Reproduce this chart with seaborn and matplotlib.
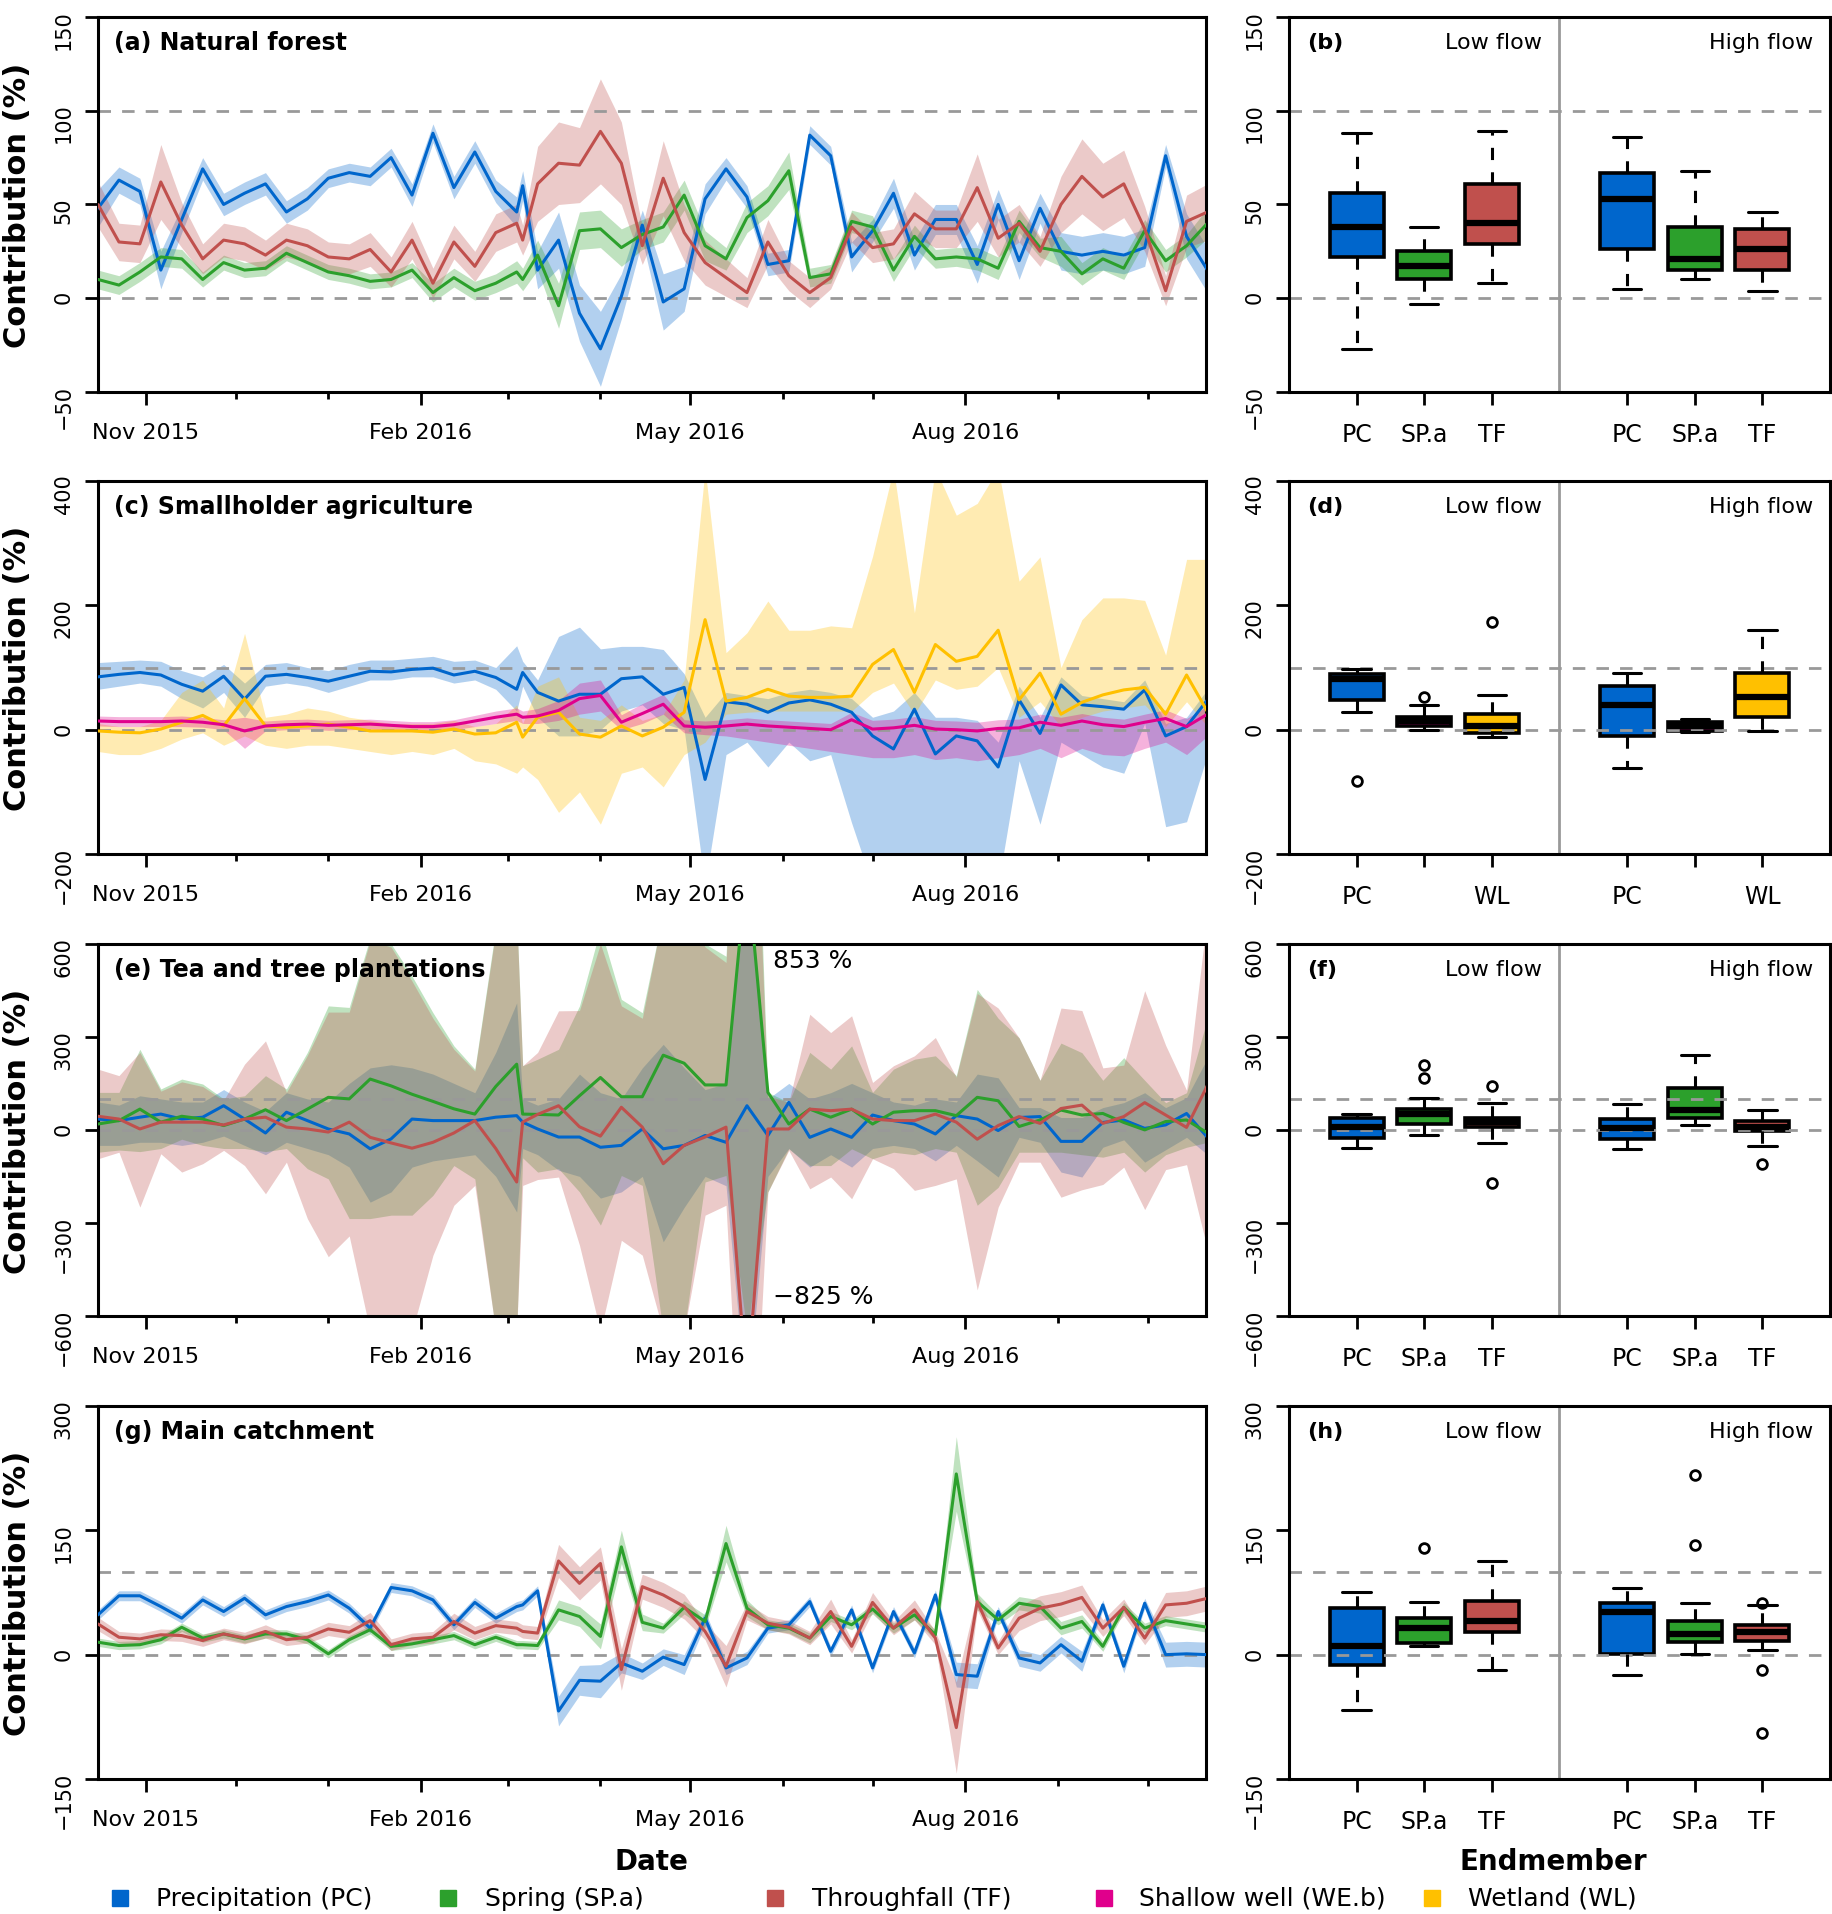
import numpy as np
import pandas as pd
import matplotlib
matplotlib.use("Agg")
import matplotlib.pyplot as plt
import matplotlib.dates as mdates
from matplotlib.lines import Line2D
import seaborn as sns

sns.set_theme(style="ticks")
plt.rcParams["font.family"] = ["DejaVu Sans"]
plt.rcParams["text.color"] = "black"
plt.rcParams["axes.labelcolor"] = "black"
plt.rcParams["xtick.color"] = "black"
plt.rcParams["ytick.color"] = "black"

# sampling dates (weekly, one extra sample early March)
dates = pd.to_datetime([
    "2015-10-16", "2015-10-23", "2015-10-30", "2015-11-06", "2015-11-13", "2015-11-20", "2015-11-27",
    "2015-12-04", "2015-12-11", "2015-12-18", "2015-12-25", "2016-01-01", "2016-01-08", "2016-01-15",
    "2016-01-22", "2016-01-29", "2016-02-05", "2016-02-12", "2016-02-19", "2016-02-26", "2016-03-04",
    "2016-03-06", "2016-03-11", "2016-03-18", "2016-03-25", "2016-04-01", "2016-04-08", "2016-04-15",
    "2016-04-22", "2016-04-29", "2016-05-06", "2016-05-13", "2016-05-20", "2016-05-27", "2016-06-03",
    "2016-06-10", "2016-06-17", "2016-06-24", "2016-07-01", "2016-07-08", "2016-07-15", "2016-07-22",
    "2016-07-29", "2016-08-05", "2016-08-12", "2016-08-19", "2016-08-26", "2016-09-02", "2016-09-09",
    "2016-09-16", "2016-09-23", "2016-09-30", "2016-10-07", "2016-10-14", "2016-10-21"])

# (a) natural forest: mean and half width of band
forest_pc = [48, 63, 57, 15, 42, 69, 50, 56, 61, 46,
             53, 64, 67, 65, 75, 55, 88, 59, 78, 57,
             46, 60, 15, 31, -8, -27, 1, 39, -2, 5,
             53, 69, 54, 18, 20, 87, 76, 22, 36, 56,
             23, 42, 42, 18, 50, 20, 48, 25, 23, 25,
             23, 27, 76, 33, 15]
forest_pc_err = [10, 7, 7, 10, 7, 6, 6, 6, 6, 6,
                 6, 5, 5, 5, 5, 6, 5, 6, 6, 6,
                 8, 8, 10, 15, 15, 20, 12, 8, 15, 12,
                 8, 6, 6, 6, 6, 5, 5, 8, 6, 8,
                 8, 8, 8, 10, 8, 10, 8, 10, 10, 10,
                 10, 10, 6, 12, 12]
forest_sp = [10, 7, 14, 22, 21, 10, 19, 15, 16, 24,
             19, 14, 12, 9, 10, 15, 3, 11, 4, 8,
             14, 10, 23, -4, 36, 37, 27, 34, 38, 55,
             28, 21, 43, 52, 68, 11, 13, 41, 38, 15,
             33, 21, 22, 21, 16, 41, 27, 25, 13, 21,
             16, 36, 20, 28, 40]
forest_sp_err = [5, 5, 5, 5, 5, 4, 4, 4, 4, 4,
                 4, 4, 4, 4, 4, 4, 5, 5, 5, 5,
                 6, 6, 8, 12, 10, 10, 10, 8, 8, 8,
                 8, 6, 8, 8, 10, 5, 5, 6, 6, 6,
                 6, 5, 5, 6, 6, 6, 5, 8, 6, 6,
                 6, 6, 6, 6, 8]
forest_tf = [50, 30, 29, 62, 39, 21, 31, 29, 23, 31,
             28, 22, 21, 26, 14, 31, 8, 30, 17, 35,
             40, 31, 61, 72, 71, 89, 72, 28, 64, 35,
             19, 11, 3, 30, 12, 3, 11, 38, 27, 29,
             45, 37, 37, 59, 32, 40, 25, 50, 65, 54,
             61, 37, 4, 41, 46]
forest_tf_err = [12, 10, 10, 20, 12, 8, 9, 9, 8, 9,
                 9, 8, 8, 9, 8, 10, 8, 9, 8, 10,
                 10, 8, 20, 22, 20, 28, 22, 10, 20, 15,
                 12, 10, 8, 12, 8, 8, 6, 8, 8, 8,
                 12, 10, 10, 18, 10, 10, 8, 15, 20, 18,
                 18, 12, 8, 14, 15]

# (c) smallholder agriculture: mean, lower and upper band
agri_pc = [85, 89, 92, 88, 73, 62, 86, 49, 86, 89,
           84, 78, 86, 94, 93, 97, 99, 88, 94, 84,
           65, 92, 60, 46, 57, 57, 82, 85, 57, 68,
           -80, 45, 41, 28, 43, 48, 41, 28, -10, -31,
           33, -39, -10, -18, -60, 48, -6, 72, 40, 37,
           33, 64, -10, 5, 48]
agri_pc_lo = [65, 70, 75, 70, 50, 35, 60, 20, 70, 75,
              70, 60, 70, 80, 80, 85, 85, 75, 80, 65,
              30, 70, 20, -10, -10, 0, 30, 40, 10, 0,
              -250, -40, -20, -60, -20, -50, -40, -150, -250, -250,
              -250, -250, -250, -250, -250, -50, -152, -20, -40, -60,
              -70, 10, -156, -148, -40]
agri_pc_hi = [108, 110, 112, 110, 95, 85, 105, 75, 105, 108,
              100, 95, 105, 112, 112, 115, 118, 110, 112, 100,
              135, 110, 80, 150, 165, 130, 134, 134, 129, 90,
              20, 60, 55, 50, 60, 65, 60, 50, 20, 30,
              60, 20, 20, 15, -20, 70, 20, 85, 55, 50,
              45, 80, 10, 20, 65]
agri_we = [14, 13, 13, 13, 14, 12, 8, -2, 6, 8,
           9, 7, 8, 9, 7, 5, 5, 8, 14, 20,
           25, 20, 22, 31, 50, 55, 12, 26, 41, 6,
           4, 6, 9, 6, 4, 2, 0, 16, 1, 3,
           7, 1, 0, -2, 2, 3, 12, 7, 14, 8,
           5, 12, 18, 5, 25]
agri_we_lo = [6, 5, 5, 5, 5, 4, 0, -30, -2, 0,
              1, -1, 0, 1, -1, -3, -3, 0, 5, 10,
              15, 10, 10, 15, 25, 30, 0, 10, 25, -5,
              -8, -10, -15, -20, -25, -30, -35, -40, -45, -45,
              -40, -48, -45, -50, -45, -40, -30, -45, -30, -40,
              -42, -30, -20, -40, -10]
agri_we_hi = [22, 21, 21, 21, 22, 20, 16, 20, 14, 16,
              17, 15, 16, 17, 15, 13, 13, 16, 23, 30,
              35, 30, 34, 47, 75, 80, 24, 42, 57, 16,
              14, 16, 19, 16, 14, 12, 10, 28, 15, 17,
              21, 15, 14, 12, 16, 17, 25, 20, 26, 20,
              17, 25, 32, 18, 38]
agri_wl = [-2, -4, -5, 1, 12, 23, 6, 50, 6, 4,
           6, 9, 4, -2, -2, -2, -4, 1, -7, -5,
           12, -12, 20, 28, -7, -12, 6, -10, 4, 28,
           177, 46, 52, 65, 54, 52, 52, 54, 105, 129,
           60, 137, 110, 118, 160, 48, 91, 25, 44, 56,
           64, 68, 25, 88, 29]
agri_wl_lo = [-35, -40, -40, -30, -15, -5, -25, -10, -25, -30,
              -25, -25, -30, -35, -40, -35, -40, -30, -50, -55,
              -70, -60, -80, -133, -100, -152, -70, -60, -92, -40,
              -20, 25, 28, 30, 30, 30, 30, 30, 60, 75,
              25, 80, 65, 70, 100, 20, 45, 5, 20, 30,
              35, 40, 5, 45, 5]
agri_wl_hi = [10, 5, 5, 15, 60, 80, 35, 155, 20, 25,
              35, 30, 20, 15, 10, 10, 10, 15, 5, 10,
              40, 10, 70, 85, 20, 15, 40, 15, 25, 80,
              420, 124, 156, 207, 160, 160, 167, 164, 279, 420,
              188, 420, 345, 364, 420, 239, 278, 100, 177, 212,
              212, 208, 120, 274, 274]

# (e) tea and tree plantations
tea_pc = [35, 30, 41, 51, 35, 41, 78, 35, -10, 57,
          30, 3, -13, -61, -29, 35, 30, 30, 30, 41,
          46, 25, 3, -23, -23, -56, -50, 3, -61, -50,
          -18, -40, 78, -18, 89, -24, 3, -24, 48, 30,
          19, -13, 46, 35, -2, 40, 43, -37, -37, 24,
          32, 5, 16, 53, -24]
tea_pc_lo = [-50, -50, -40, -40, -50, -40, -20, -50, -80, -40,
             -60, -80, -120, -233, -200, -120, -100, -90, -80, -150,
             -265, -60, -80, -130, -150, -220, -200, -150, -361, -250,
             -150, -180, -900, -150, -60, -120, -80, -120, -60, -50,
             -60, -100, -50, -100, -152, -24, -40, -136, -152, -56,
             -32, -104, -64, -24, -80]
tea_pc_hi = [90, 80, 110, 100, 90, 90, 130, 90, 60, 120,
             100, 90, 150, 200, 210, 200, 180, 150, 120, 250,
             410, 100, 80, 100, 180, 120, 100, 200, 276, 200,
             130, 150, 900, 100, 150, 100, 120, 150, 120, 90,
             80, 100, 90, 180, 168, 72, 72, 40, 40, 72,
             88, 120, 72, 104, 232]
tea_sp = [19, 30, 67, 25, 44, 35, 14, 35, 65, 30,
          67, 105, 100, 164, 142, 115, 92, 68, 51, 140,
          212, 51, 50, 48, 110, 169, 107, 107, 241, 215,
          145, 145, 853, 121, 19, 67, 41, 67, 19, 57,
          62, 62, 46, 105, 94, 11, 32, 64, 48, 53,
          24, 0, 27, 32, -10]
tea_sp_lo = [-72, -65, -70, -60, -30, -50, -60, -60, -70, -60,
             -125, -158, -286, -286, -275, -275, -211, -115, -158, -650,
             -650, -90, -136, -125, -200, -307, -147, -179, -650, -650,
             -168, -147, -650, -200, -61, -115, -115, -61, -93, -72,
             -80, -60, -72, -243, -185, -72, -72, -72, -80, -88,
             -72, -136, -80, -56, -40]
tea_sp_hi = [121, 121, 260, 132, 164, 148, 100, 110, 175, 132,
             250, 400, 395, 620, 600, 496, 378, 271, 196, 650,
             700, 207, 228, 260, 400, 650, 421, 378, 700, 700,
             600, 560, 2000, 121, 89, 250, 196, 271, 121, 196,
             228, 239, 175, 453, 360, 297, 160, 280, 249, 160,
             233, 160, 88, 120, 360]
tea_tf = [44, 35, 3, 25, 25, 25, 16, 35, 41, 9,
          3, -7, 25, -24, -42, -59, -40, -10, 30, -60,
          -168, 25, 50, 78, 10, -20, 73, 9, -109, -50,
          -23, 9, -825, 3, 3, 67, 62, 67, 35, 30,
          30, 51, 25, -30, 14, 43, 21, 69, 80, 21,
          43, 88, 48, 8, 144]
tea_tf_lo = [-93, -72, -249, -77, -136, -109, -66, -115, -206, -104,
             -286, -409, -342, -650, -650, -650, -404, -243, -179, -650,
             -650, -179, -160, -152, -372, -650, -356, -404, -650, -650,
             -275, -243, -1500, -200, -66, -190, -152, -222, -93, -125,
             -195, -179, -158, -516, -249, -104, -104, -217, -193, -176,
             -120, -257, -128, -112, -385]
tea_tf_hi = [196, 175, 250, 125, 155, 140, 95, 212, 287, 121,
             240, 380, 380, 610, 590, 480, 360, 260, 190, 640,
             690, 207, 250, 384, 385, 600, 400, 360, 700, 700,
             590, 540, 1800, 110, 89, 373, 314, 368, 153, 207,
             239, 298, 170, 440, 393, 297, 160, 393, 385, 200,
             209, 449, 273, 128, 700]

# (g) main catchment: mean and half width of band
main_pc = [48, 71, 71, 58, 44, 66, 52, 68, 48, 58,
           64, 72, 56, 32, 81, 77, 66, 36, 63, 44,
           58, 60, 77, -68, -31, -32, -10, -20, -3, -12,
           44, -16, -4, 32, 36, 64, 4, 54, -16, 52,
           2, 72, -24, -26, 52, -4, -10, 12, -8, 60,
           -14, 62, 0, 1, 0]
main_pc_err = [6, 6, 6, 6, 6, 6, 6, 6, 6, 6,
               6, 6, 6, 6, 6, 6, 6, 6, 6, 6,
               6, 6, 6, 18, 18, 20, 12, 10, 10, 12,
               8, 8, 8, 6, 6, 6, 6, 6, 6, 6,
               6, 6, 15, 15, 6, 10, 10, 10, 12, 6,
               8, 6, 15, 15, 15]
main_sp = [15, 11, 12, 18, 33, 20, 25, 19, 25, 25,
           18, 1, 18, 30, 10, 13, 18, 23, 12, 21,
           12, 12, 11, 54, 46, 22, 130, 39, 32, 57,
           40, 134, 56, 36, 32, 20, 46, 36, 55, 32,
           48, 24, 218, 64, 42, 62, 58, 32, 40, 10,
           57, 32, 41, 37, 33]
main_sp_err = [5, 5, 5, 5, 5, 5, 5, 5, 5, 5,
               5, 5, 5, 5, 5, 5, 5, 5, 5, 5,
               5, 5, 5, 12, 12, 15, 20, 10, 6, 8,
               8, 22, 10, 6, 6, 6, 6, 6, 6, 6,
               6, 6, 45, 10, 6, 8, 8, 8, 8, 6,
               6, 6, 6, 6, 6]
main_tf = [37, 21, 19, 24, 23, 17, 25, 20, 28, 18,
           21, 31, 27, 41, 12, 19, 21, 40, 26, 35,
           32, 28, 26, 113, 86, 110, -18, 82, 72, 58,
           28, -14, 52, 38, 33, 20, 52, 10, 63, 32,
           54, 20, -88, 64, 8, 44, 56, 61, 69, 32,
           57, 20, 60, 62, 68]
main_tf_err = [8, 7, 7, 7, 7, 7, 7, 7, 8, 7,
               7, 8, 8, 10, 7, 7, 7, 10, 8, 8,
               8, 8, 8, 20, 20, 20, 25, 15, 15, 15,
               10, 25, 10, 8, 8, 8, 15, 8, 12, 8,
               12, 8, 55, 10, 8, 15, 15, 15, 15, 10,
               10, 8, 15, 15, 15]

# boxplot summaries: [whisker low, q1, median, q3, whisker high]
b_low = [[-27, 22, 38, 56, 88], [-3, 10, 17, 25, 38], [8, 29, 40, 61, 89]]
b_low_out = [[], [], []]
b_high = [[5, 26, 53, 67, 86], [10, 15, 21, 38, 68], [4, 15, 26, 37, 46]]
b_high_out = [[], [], []]
d_low = [[29, 47, 81, 89, 98], [0, 6, 14, 21, 40], [-12, -5, 6, 25, 56]]
d_low_out = [[-83], [52], [174]]
d_high = [[-61, -10, 40, 71, 92], [-3, -2, 6, 12, 18], [-2, 21, 52, 92, 160]]
d_high_out = [[], [], []]
f_low = [[-59, -27, 8, 37, 51], [-16, 18, 52, 68, 104], [-43, 8, 25, 40, 88]]
f_low_out = [[], [168, 208], [140, -170]]
f_high = [[-60, -28, 5, 35, 82], [15, 40, 65, 135, 240], [-52, -5, 10, 28, 65]]
f_high_out = [[], [], [-110]]
h_low = [[-67, -12, 10, 56, 76], [10, 14, 32, 44, 63], [-19, 27, 40, 65, 113]]
h_low_out = [[], [129], []]
h_high = [[-24, 1, 52, 62, 80], [1, 15, 25, 40, 62], [6, 17, 27, 36, 60]]
h_high_out = [[], [217, 132], [62, -19, -95]]

colors = {"PC": "#0066CC", "SP.a": "#2CA02C", "TF": "#C0504D",
          "WE.b": "#E0008C", "WL": "#FFC000"}
legend_labels = ["Precipitation (PC)", "Spring (SP.a)", "Throughfall (TF)",
                 "Shallow well (WE.b)", "Wetland (WL)"]
GREY = "#999999"


def pm(vals, err):
    v = np.array(vals, dtype=float)
    e = np.array(err, dtype=float)
    return vals, v - e, v + e


def draw_series(ax, series):
    frames = []
    for name, vals, lo, hi in series:
        ax.fill_between(dates, np.array(lo, float), np.array(hi, float),
                        color=colors[name], alpha=0.3, linewidth=0, zorder=1)
        frames.append(pd.DataFrame({"date": dates, "value": vals, "source": name}))
    df = pd.concat(frames, ignore_index=True)
    sns.lineplot(data=df, x="date", y="value", hue="source", palette=colors,
                 estimator=None, sort=False, legend=False, linewidth=2.2,
                 ax=ax, zorder=3)


def style_common(ax, ylim, yticks):
    ax.set_ylim(*ylim)
    ax.set_yticks(yticks)
    for s in ax.spines.values():
        s.set_visible(True)
        s.set_linewidth(2.2)
        s.set_color("black")
    ax.tick_params(axis="y", length=9.5, width=2, pad=8, labelsize=15,
                   labelrotation=90, color="black", labelcolor="black")
    for y in (0, 100):
        ax.axhline(y, color=GREY, linewidth=2, linestyle=(0, (4.5, 4)), zorder=2.5)
    ax.set_facecolor("white")


def draw_boxes(ax, low, low_out, high, high_out, names, ticklabels):
    stats = []
    for vals, out in zip(low + high, low_out + high_out):
        stats.append(dict(whislo=vals[0], q1=vals[1], med=vals[2], q3=vals[3],
                          whishi=vals[4], fliers=out))
    bp = ax.bxp(stats, positions=[1, 2, 3, 5, 6, 7], widths=0.8, capwidths=0.42,
                patch_artist=True, manage_ticks=False,
                boxprops=dict(linewidth=2.6, edgecolor="black", zorder=2),
                whiskerprops=dict(linewidth=2.2, linestyle=(0, (4, 4)), color="black", zorder=3),
                capprops=dict(linewidth=2.2, color="black", zorder=3),
                medianprops=dict(linewidth=4.5, color="black", zorder=3),
                flierprops=dict(marker="o", markerfacecolor="none", markeredgecolor="black",
                                markersize=7, markeredgewidth=2, zorder=3))
    for patch, name in zip(bp["boxes"], names + names):
        patch.set_facecolor(colors[name])
    ax.axvline(4, color=GREY, linewidth=2, zorder=2.5)
    ax.set_xlim(0, 8)
    ax.set_xticks([1, 2, 3, 5, 6, 7])
    ax.set_xticklabels(ticklabels + ticklabels)
    ax.tick_params(axis="x", length=9.5, width=2, pad=12, labelsize=17,
                   color="black", labelcolor="black")
    tr = ax.get_xaxis_transform()
    ax.text(3.74, 0.933, "Low flow", transform=tr, ha="right", va="center", fontsize=16)
    ax.text(7.75, 0.933, "High flow", transform=tr, ha="right", va="center", fontsize=16)


fig = plt.figure(figsize=(18.32, 19.15), dpi=100)
rows = [(0.7948, 0.1958), (0.5535, 0.1948), (0.3123, 0.1943), (0.0705, 0.1948)]

left_specs = [
    ("(a) Natural forest", (-50, 150), [-50, 0, 50, 100, 150],
     [("PC",) + pm(forest_pc, forest_pc_err), ("SP.a",) + pm(forest_sp, forest_sp_err),
      ("TF",) + pm(forest_tf, forest_tf_err)]),
    ("(c) Smallholder agriculture", (-200, 400), [-200, 0, 200, 400],
     [("PC", agri_pc, agri_pc_lo, agri_pc_hi), ("WL", agri_wl, agri_wl_lo, agri_wl_hi),
      ("WE.b", agri_we, agri_we_lo, agri_we_hi)]),
    ("(e) Tea and tree plantations", (-600, 600), [-600, -300, 0, 300, 600],
     [("PC", tea_pc, tea_pc_lo, tea_pc_hi), ("SP.a", tea_sp, tea_sp_lo, tea_sp_hi),
      ("TF", tea_tf, tea_tf_lo, tea_tf_hi)]),
    ("(g) Main catchment", (-150, 300), [-150, 0, 150, 300],
     [("PC",) + pm(main_pc, main_pc_err), ("SP.a",) + pm(main_sp, main_sp_err),
      ("TF",) + pm(main_tf, main_tf_err)]),
]

right_specs = [
    ("(b)", b_low, b_low_out, b_high, b_high_out, ["PC", "SP.a", "TF"], ["PC", "SP.a", "TF"]),
    ("(d)", d_low, d_low_out, d_high, d_high_out, ["PC", "WE.b", "WL"], ["PC", "", "WL"]),
    ("(f)", f_low, f_low_out, f_high, f_high_out, ["PC", "SP.a", "TF"], ["PC", "SP.a", "TF"]),
    ("(h)", h_low, h_low_out, h_high, h_high_out, ["PC", "SP.a", "TF"], ["PC", "SP.a", "TF"]),
]

for (bottom, height), lspec, rspec in zip(rows, left_specs, right_specs):
    title, ylim, yticks, series = lspec
    axl = fig.add_axes([0.0535, bottom, 0.6048, height])
    draw_series(axl, series)
    style_common(axl, ylim, yticks)
    axl.set_xlim(pd.Timestamp("2015-10-16"), pd.Timestamp("2016-10-20 12:00"))
    axl.xaxis.set_major_locator(mdates.MonthLocator(bymonth=[2, 5, 8, 11]))
    axl.xaxis.set_major_formatter(mdates.DateFormatter("%b %Y"))
    axl.xaxis.set_minor_locator(mdates.MonthLocator())
    axl.tick_params(axis="x", which="major", length=9.5, width=2, pad=12, labelsize=16,
                    color="black", labelcolor="black")
    axl.tick_params(axis="x", which="minor", length=5, width=2, color="black")
    axl.set_xlabel("")
    axl.set_ylabel("Contribution (%)", fontsize=22, fontweight="bold", color="black")
    axl.yaxis.set_label_coords(-0.06, 0.5)
    axl.text(0.014, 0.933, title, transform=axl.transAxes, ha="left", va="center",
             fontsize=17, fontweight="bold", zorder=5)

    tag, low, low_out, high, high_out, names, tlabels = rspec
    axr = fig.add_axes([0.7036, bottom, 0.2953, height])
    style_common(axr, ylim, yticks)
    draw_boxes(axr, low, low_out, high, high_out, names, tlabels)
    axr.text(0.033, 0.933, tag, transform=axr.transAxes, ha="left", va="center",
             fontsize=16, fontweight="bold")

    if title.startswith("(e)"):
        axl.text(0.609, 0.957, "853 %", transform=axl.transAxes, ha="left", va="center", fontsize=18)
        axl.text(0.609, 0.054, "\u2212825 %", transform=axl.transAxes, ha="left", va="center", fontsize=18)

fig.text(0.3554, 0.0277, "Date", ha="center", va="center", fontsize=20, fontweight="bold")
fig.text(0.848, 0.0277, "Endmember", ha="center", va="center", fontsize=20, fontweight="bold")

sq_x = [0.0653, 0.2445, 0.4230, 0.6026, 0.7817]
txt_x = [0.0852, 0.2647, 0.4432, 0.6217, 0.8013]
for name, lab, sx, tx in zip(colors, legend_labels, sq_x, txt_x):
    fig.add_artist(Line2D([sx], [0.0084], marker="s", markersize=12, color=colors[name],
                          linestyle="none", transform=fig.transFigure))
    fig.text(tx, 0.0084, lab, ha="left", va="center", fontsize=18)

fig.savefig("out.png", dpi=100)
